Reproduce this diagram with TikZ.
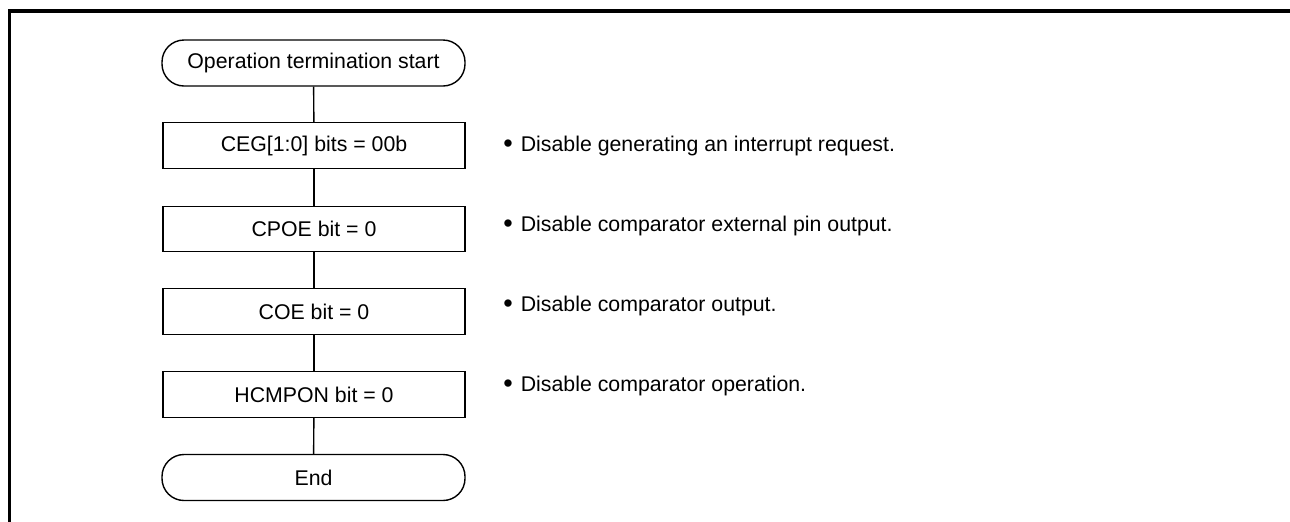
\documentclass[tikz,border=0pt]{standalone}
\usepackage{fontspec}
\setmainfont{Liberation Sans}
\newcommand{\bigbul}{\raisebox{-0.5pt}{\fontsize{13.5pt}{13.5pt}\selectfont\textbullet}\hspace{4pt}}
\begin{document}
\begin{tikzpicture}[x=0.5pt,y=-0.5pt,
  every node/.style={font=\fontsize{10.65pt}{12pt}\selectfont},
  procbox/.style={draw, line width=0.7pt, minimum width=151pt, minimum height=22.75pt, inner sep=0pt},
  termbox/.style={draw, line width=0.7pt, rounded corners=11pt, minimum width=151.5pt, minimum height=23pt, inner sep=0pt},
  note/.style={anchor=west, inner sep=0pt},
  link/.style={line width=0.7pt}]
\useasboundingbox (0,0) rectangle (1290,521);
\begin{scope}
\clip (0,0) rectangle (1290,521);
\draw[line width=1.8pt] (9.5,530) -- (9.5,11) -- (1300,11);
\end{scope}
\node[termbox] (start) at (313.5,63) {Operation termination start};
\node[procbox] (ceg) at (314,145.5) {CEG[1:0] bits = 00b};
\node[procbox] (cpoe) at (314,229) {CPOE bit = 0};
\node[procbox] (coe) at (314,311.5) {COE bit = 0};
\node[procbox] (hcm) at (314,394.5) {HCMPON bit = 0};
\node[termbox] (end) at (313.5,477.5) {End};
\draw[link] (start) -- (ceg);
\draw[link] (ceg) -- (cpoe);
\draw[link] (cpoe) -- (coe);
\draw[link] (coe) -- (hcm);
\draw[link] (hcm) -- (end);
\node[note] (n1) at (503,146) {\bigbul Disable generating an interrupt request.};
\node[note] (n2) at (503,226) {\bigbul Disable comparator external pin output.};
\node[note] (n3) at (503,306) {\bigbul Disable comparator output.};
\node[note] (n4) at (503,386) {\bigbul Disable comparator operation.};
\end{tikzpicture}
\end{document}
